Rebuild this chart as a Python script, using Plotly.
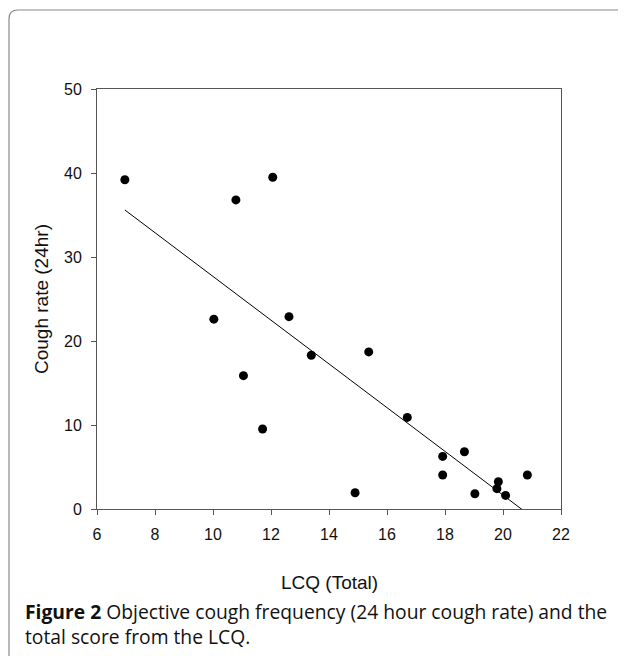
import numpy as np
import plotly.graph_objects as go

# Data
lcq_total = [6.96, 10.79, 12.06, 10.03, 12.62, 13.39, 15.37, 16.70, 17.92, 17.92,
             18.67, 14.90, 19.03, 19.84, 19.79, 20.09, 20.84, 11.05, 11.71]
cough_rate = [39.2, 36.8, 39.5, 22.6, 22.9, 18.3, 18.7, 10.9, 6.26, 4.05,
              6.82, 1.94, 1.82, 3.25, 2.42, 1.62, 4.05, 15.87, 9.52]
x_ticks = [6, 8, 10, 12, 14, 16, 18, 20, 22]
y_ticks = [0, 10, 20, 30, 40, 50]

# linear regression line
slope, intercept = np.polyfit(lcq_total, cough_rate, 1)
fit_x = [min(lcq_total), max(lcq_total)]
fit_y = [slope * v + intercept for v in fit_x]

OFF = 8                      # default body margin of the page
W, H = 610, 648              # figure size (fits in window with body margins)
# plot area in page pixels
PL, PR, PT, PB = 97, 561, 89, 509
L, R, T, B = PL - OFF, PR - OFF, PT - OFF, PB - OFF

def px(X):  # page pixel -> paper x
    return (X - PL) / (PR - PL)

def py(Y):  # page pixel -> paper y
    return (PB - Y) / (PB - PT)

fig = go.Figure()
fig.add_trace(go.Scatter(x=fit_x, y=fit_y, mode="lines",
                         line=dict(color="black", width=1), hoverinfo="skip"))
fig.add_trace(go.Scatter(x=lcq_total, y=cough_rate, mode="markers",
                         marker=dict(color="black", size=9)))

axis_common = dict(showline=True, linecolor="#555", linewidth=1, mirror=True,
                   ticks="outside", ticklen=5, tickcolor="#555", showgrid=False,
                   zeroline=False, ticklabelstandoff=6,
                   tickfont=dict(family="Liberation Sans", size=16, color="#111"))
fig.update_xaxes(range=[6, 22], tickvals=x_ticks, **axis_common)
fig.update_yaxes(range=[0, 50], tickvals=y_ticks, **axis_common)

# card border with rounded top-left corner
r = 9
path = (f"M {px(9)},{py(700)} L {px(9)},{py(10 + r)} "
        f"Q {px(9)},{py(10)} {px(9 + r)},{py(10)} L {px(700)},{py(10)}")
fig.add_shape(type="path", xref="paper", yref="paper", path=path,
              line=dict(color="#8a8a8a", width=1.2), layer="below")

fig.add_annotation(xref="paper", yref="paper", x=px(329), y=py(582), text="LCQ (Total)",
                   showarrow=False, xanchor="center", yanchor="middle",
                   font=dict(family="Liberation Sans", size=19, color="#111"))
fig.add_annotation(xref="paper", yref="paper", x=px(41), y=py(299), text="Cough rate (24hr)",
                   showarrow=False, xanchor="center", yanchor="middle", textangle=-90,
                   font=dict(family="Liberation Sans", size=19, color="#111"))
fig.add_annotation(xref="paper", yref="paper", x=px(23), y=py(624),
                   text=("<b>Figure 2</b> Objective cough frequency (24 hour cough rate) and the"
                         "<br>total score from the LCQ."),
                   showarrow=False, xanchor="left", yanchor="middle", align="left",
                   font=dict(family="Open Sans", size=19.3, color="#111"))

fig.update_layout(width=W, height=H, showlegend=False,
                  margin=dict(l=L, r=W - R, t=T, b=H - B),
                  paper_bgcolor="white", plot_bgcolor="white")

fig.write_html("out.html")
